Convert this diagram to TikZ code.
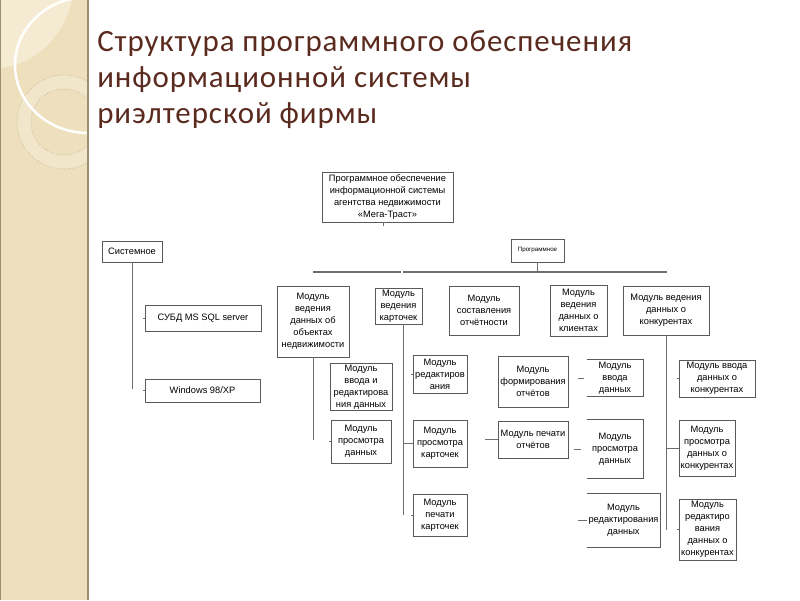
\documentclass[tikz,border=0pt]{standalone}
\usepackage{fontspec}
\setmainfont{Liberation Sans}
\newfontfamily\titlefont[LetterSpace=3]{Carlito}
\usetikzlibrary{positioning, calc}
\definecolor{panel}{HTML}{EEE0BC}
\definecolor{panellt}{HTML}{F5EBD3}
\definecolor{paneledge}{HTML}{9C8E72}
\definecolor{ringtan}{HTML}{B8A67E}
\definecolor{titlebrn}{HTML}{5A2A1E}
\definecolor{boxline}{HTML}{5A5A5A}
\definecolor{linkgray}{HTML}{6E6E6E}

\begin{document}
\begin{tikzpicture}[
  x=0.025cm, y=-0.025cm,
  box/.style={draw=boxline, line width=0.6pt, fill=white, align=center,
    inner sep=1pt, font=\fontsize{6.6}{8.6}\selectfont},
  openbox/.style={box, draw=none},
  wh/.style 2 args={minimum width=#1*0.025cm, minimum height=#2*0.025cm},
  link/.style={linkgray, line width=0.7pt},
  bar/.style={linkgray, line width=1.1pt},
]
\useasboundingbox (0,0) rectangle (800,600);

% Side panel
\fill[panel] (0,0) rectangle (88,600);
\begin{scope}
  \clip (0,0) rectangle (88,600);
  \fill[panellt] (0,0) -- (0,68) .. controls (35,65) and (65,35) .. (72,0) -- cycle;
  \fill[white, opacity=0.22, even odd rule] (64,122) circle (47) (64,122) circle (33);
  \draw[ringtan, line width=0.4pt, densely dotted] (64,122) circle (47) (64,122) circle (33);
  \draw[white, line width=1.8pt] (88,65) ellipse (73 and 68);
\end{scope}
\draw[paneledge, line width=0.8pt] (0.4,0) -- (0.4,600);
\draw[paneledge, line width=0.9pt] (88,0) -- (88,600);

% Title
\node[anchor=north west, align=left, inner sep=0pt, text=titlebrn,
  font=\titlefont\fontsize{22}{25.5}\selectfont] (title) at (97,30)
  {Структура программного обеспечения\\информационной системы\\риэлтерской фирмы};

% === Root ===
\node[box, wh={131}{50}] (root) at (387.5,197)
  {Программное обеспечение\\информационной системы\\агентства недвижимости\\«Мега-Траст»};
\draw[link] ([xshift=-3]root.south) -- ++(0,4);

% === Two branches ===
\node[box, wh={60}{21}] (sys) at (132,251.5) {Системное};
\node[box, wh={53}{23}, font=\fontsize{4.4}{5}\selectfont] (prog) at (537.5,250.5) {Программное};

% Bar under Программное
\coordinate (barL) at (313,272);
\coordinate (barM) at (401,272);
\coordinate (barN) at (403,272);
\coordinate (barR) at (667,272);
\draw[bar] (barL) -- (barM);
\draw[bar] (barN) -- (barR);
\draw[link] (prog.south) -- (prog.south |- barR);

% === Системное ===
\node[box, wh={116}{26}] (dbms) at (203,318) {СУБД MS SQL server};
\node[box, wh={115}{23}] (win) at (202.5,390.5) {Windows 98/XP};
\coordinate (sysEnd) at (132,389);
\draw[link] (sys.south) -- (sysEnd);
\draw[link] (dbms.west) -- ++(-2,0);
\draw[link] (win.west) -- ++(-2,0);

% === Программное: modules ===
\node[box, wh={72}{71}] (objects) at (313,321.5)
  {Модуль\\ведения\\данных об\\объектах\\недвижимости};
\node[box, wh={47}{36}] (cards) at (398.5,306) {Модуль\\ведения\\карточек};
\node[box, wh={70}{49}] (reports) at (484,310.5) {Модуль\\составления\\отчётности};
\node[box, wh={57}{51}] (clients) at (578.5,310.5) {Модуль\\ведения\\данных о\\клиентах};
\node[box, wh={86}{49}] (konk) at (666,310.5) {Модуль ведения\\данных о\\конкурентах};

% Objects column
\node[box, wh={62}{46}] (inputedit) at (361,387) {Модуль\\ввода и\\редактирова\\ния данных};
\node[box, wh={60}{43}] (viewdata) at (361,441.5) {Модуль\\просмотра\\данных};
\coordinate (objEnd) at (313,440);
\draw[link] (objects.south) -- (objEnd);
\draw[link] (viewdata.west) -- ++(-2,0);

% Cards column
\node[box, wh={54}{38}] (editcard) at (440,374) {Модуль\\редактиров\\ания};
\node[box, wh={54}{47}] (viewcard) at (440,443.5) {Модуль\\просмотра\\карточек};
\node[box, wh={54}{42}] (printcard) at (440,515) {Модуль\\печати\\карточек};
\coordinate (cardsEnd) at (403,515);
\draw[link] (cards.south -| cardsEnd) -- (cardsEnd);
\draw[link] (viewcard.west -| cardsEnd) -- (viewcard.west);
\draw[link] (editcard.west) -- ++(-2,0);
\draw[link] (printcard.west) -- ++(-2,0);

% Reports column
\node[box, wh={70}{51}] (formrep) at (533,381.5) {Модуль\\формирования\\отчётов};
\node[box, wh={70}{37}] (printrep) at (533,439.5) {Модуль печати\\отчётов};
\draw[link] (printrep.west) -- ++(-13,0);

% Clients column
\node[openbox, wh={56}{36}] (cinput) at (615,378) {Модуль\\ввода\\данных};
\node[openbox, wh={56}{58}] (cview) at (615,449) {Модуль\\просмотра\\данных};
\node[openbox, wh={73}{53}] (cedit) at (623.5,520.5) {Модуль\\редактирования\\данных};
\foreach \n in {cinput, cview, cedit}
  \draw[draw=boxline, line width=0.6pt] (\n.north west) -- (\n.north east)
    -- (\n.south east) -- (\n.south west);
\draw[link] ([xshift=-2]cinput.west) -- ++(-6,0);
\draw[link] ([xshift=-4]cview.west) -- ++(-7,0);
\draw[link] (cedit.west) -- ++(-9,0);

% Konk column
\node[box, wh={76}{37}] (kinput) at (717,378.5) {Модуль ввода\\данных о\\конкурентах};
\node[box, wh={56}{56}] (kview) at (707,448) {Модуль\\просмотра\\данных о\\конкурентах};
\node[box, wh={57}{61}] (kedit) at (707.5,529.5) {Модуль\\редактиро\\вания\\данных о\\конкурентах};
\coordinate (konkEnd) at (666,530);
\draw[link] (konk.south) -- (konkEnd);
\draw[link] (kview.west -| konkEnd) -- (kview.west);
\draw[link] (kinput.west) -- ++(-2,0);
\draw[link] (kedit.west) -- ++(-2,0);

\end{tikzpicture}
\end{document}
